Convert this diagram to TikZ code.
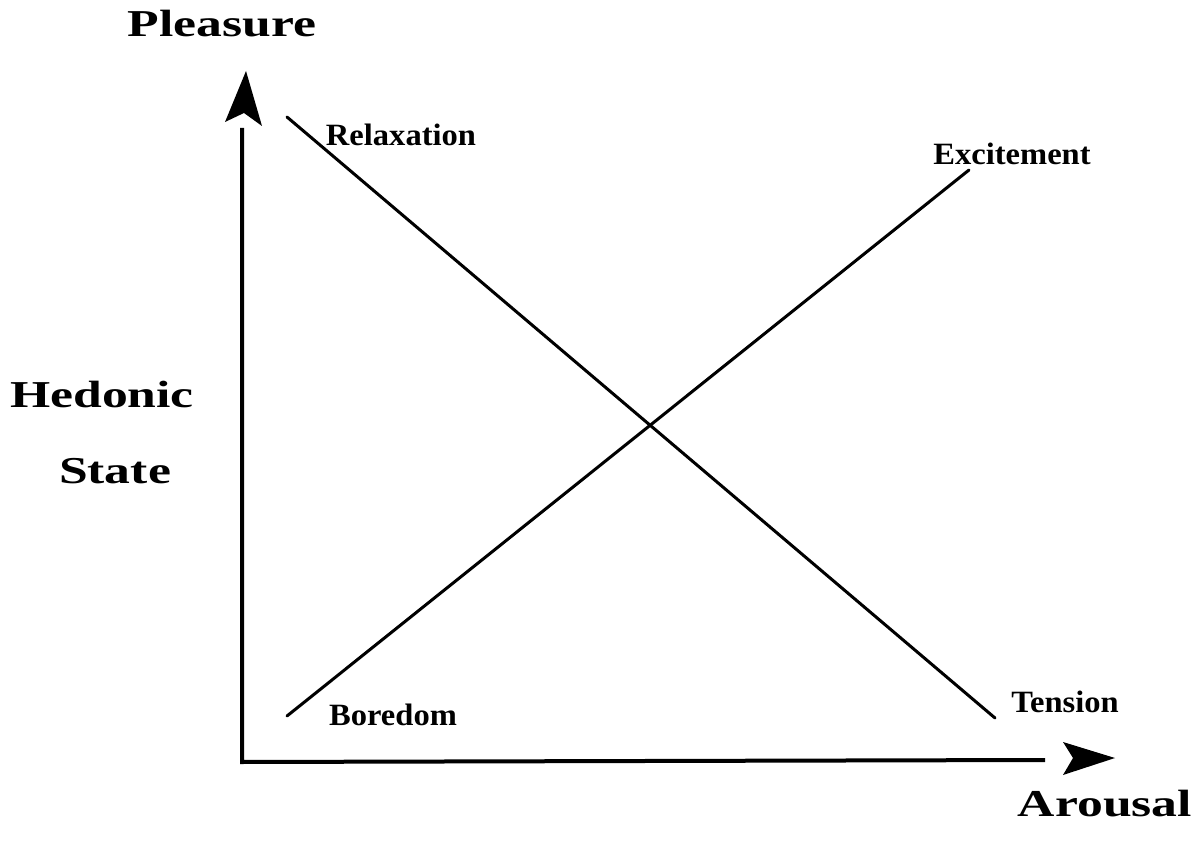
\documentclass[tikz,border=0pt]{standalone}
\usepackage{fontspec}
\setmainfont{Liberation Serif}
\newfontfamily\bigfont[FakeStretch=1.36]{Liberation Serif Bold}
\newfontfamily\smallfont[FakeStretch=1.05]{Liberation Serif Bold}
\begin{document}
\begin{tikzpicture}[x=1pt,y=-1pt,
  biglabel/.style={font=\bigfont\fontsize{38}{40}\selectfont,anchor=base,inner sep=0pt},
  smalllabel/.style={font=\smallfont\fontsize{31}{33}\selectfont,anchor=base,inner sep=0pt},
  axis/.style={line width=4pt},
  curve/.style={line width=3pt,line cap=round},
  head/.style={fill=black}]
\useasboundingbox (0,0) rectangle (1200,842);
% axes
\coordinate (origin) at (242,760);
\coordinate (ytop) at (242,128);
\coordinate (xend) at (1045,760);
\draw[axis] (ytop) -- (242,762) -- (xend);
\fill[head] (246,71) -- (262,126) -- (244,113) -- (225,122) -- cycle;
\fill[head] (1115,758) -- (1063,775) -- (1073,758) -- (1063,742) -- cycle;
% lines
\coordinate (relax) at (287,117);
\coordinate (tens) at (995,718);
\coordinate (bore) at (287,716);
\coordinate (exc) at (969,170);
\draw[curve] (relax) -- (tens);
\draw[curve] (bore) -- (exc);
% labels
\node[biglabel] (pleasure) at (222,37) {Pleasure};
\node[biglabel] (hedonic) at (102,407) {Hedonic};
\node[biglabel] (state) at (115,483) {State};
\node[biglabel] (arousal) at (1105,816) {Arousal};
\node[smalllabel] (lrelax) at (401,146) {Relaxation};
\node[smalllabel] (lexc) at (1012,165) {Excitement};
\node[smalllabel] (lbore) at (393,725) {Boredom};
\node[smalllabel] (ltens) at (1065,712) {Tension};
\end{tikzpicture}
\end{document}
